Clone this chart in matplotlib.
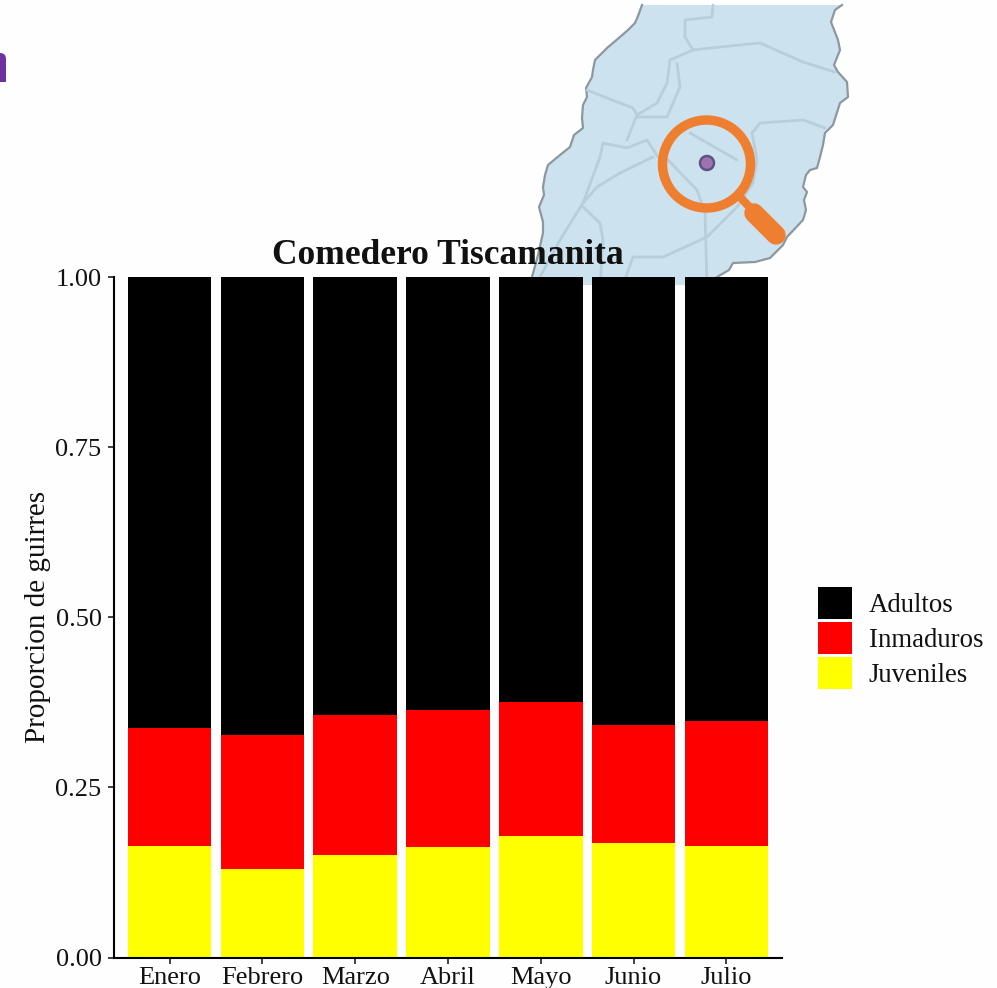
import numpy as np
import matplotlib
matplotlib.use("Agg")
import matplotlib.pyplot as plt
from matplotlib.patches import Polygon, Circle, FancyBboxPatch, Rectangle

plt.rcParams["font.family"] = ["Liberation Serif", "DejaVu Serif"]

# Datos
meses = ["Enero", "Febrero", "Marzo", "Abril", "Mayo", "Junio", "Julio"]
juveniles = [0.164, 0.130, 0.151, 0.162, 0.179, 0.168, 0.164]
inmaduros = [0.173, 0.197, 0.206, 0.202, 0.196, 0.174, 0.183]
adultos = [0.663, 0.673, 0.643, 0.636, 0.625, 0.658, 0.653]
yticks = [0.00, 0.25, 0.50, 0.75, 1.00]

W, H = 997, 988
fig = plt.figure(figsize=(W / 100, H / 100), dpi=100, facecolor="#fefefe")

# Fondo: mapa y lupa, en pixeles de la imagen
bg = fig.add_axes([0, 0, 1, 1], zorder=0)
bg.set_xlim(0, W)
bg.set_ylim(H, 0)
bg.axis("off")

contorno = [(642, 5), (638, 16), (635, 23), (628, 30), (620, 37), (607, 48), (595, 60), (593, 70), (592, 77),
            (586, 88), (587, 97), (583, 105), (582, 118), (583, 128), (574, 135), (570, 147), (560, 155),
            (548, 165), (545, 175), (543, 187), (544, 195), (539, 207), (543, 222), (543, 233), (538, 255),
            (532, 277), (532, 285), (717, 285), (717, 277), (729, 270), (733, 263), (755, 262), (770, 258),
            (783, 245), (787, 237), (803, 220), (806, 210), (804, 200), (807, 192), (803, 187), (806, 175),
            (810, 170), (817, 168), (820, 157), (823, 145), (825, 133), (833, 125), (840, 103), (848, 97),
            (847, 82), (838, 72), (834, 65), (840, 50), (838, 40), (831, 22), (835, 10), (842, 5)]
bg.add_patch(Polygon(contorno, closed=True, facecolor="#cde2ef", edgecolor="none"))
# sin borde arriba ni abajo
izq = contorno[:26]
der = contorno[28:]
for tramo in [izq, der]:
    xs, ys = zip(*tramo)
    bg.plot(xs, ys, color="#8d989e", lw=1.6)

color_linea = "#b9cedd"
lineas = [
    [(713, 5), (712, 17), (685, 20), (685, 37), (693, 50), (670, 60), (667, 83), (657, 103), (637, 115), (627, 140)],
    [(693, 50), (720, 47), (760, 43), (803, 62), (835, 72)],
    [(677, 63), (680, 87), (667, 117), (637, 117)],
    [(587, 90), (607, 98), (633, 108), (637, 115)],
    [(600, 157), (603, 143), (627, 148), (647, 140), (658, 157)],
    [(583, 203), (597, 187), (620, 173), (653, 157)],
    [(600, 157), (583, 203), (560, 240), (540, 277)],
    [(583, 207), (600, 223), (603, 240), (600, 285)],
    [(690, 133), (737, 160)],
    [(668, 160), (697, 190), (705, 213), (707, 285)],
    [(752, 133), (760, 123), (803, 120), (825, 128)],
    [(752, 133), (757, 160), (753, 183), (737, 207), (707, 237), (663, 257), (633, 257), (623, 285)],
]
for linea in lineas:
    xs, ys = zip(*linea)
    bg.plot(xs, ys, color=color_linea, lw=2, solid_capstyle="round", solid_joinstyle="round")

# Lupa
bg.plot([740, 756], [197, 214], color="#ef7f30", lw=6, zorder=3)
bg.plot([754, 776], [213, 235], color="#ef7f30", lw=14, solid_capstyle="round", zorder=3)
bg.add_patch(Circle((706.5, 164), 44, facecolor="none", edgecolor="#ef7f30", lw=6.8, zorder=4))
bg.add_patch(Circle((707, 163), 7, facecolor="#9d72b2", edgecolor="#5d5580", lw=1.8, zorder=4))

# Pestana morada, cortada por el borde izquierdo
bg.add_patch(FancyBboxPatch((-20, 53), 26, 29, boxstyle="round,pad=0,rounding_size=6",
                            facecolor="#7030a0", edgecolor="none"))
bg.add_patch(Rectangle((0, 70), 6, 12, facecolor="#7030a0", edgecolor="none"))

# Grafico de barras
x0, x1, y0, y1 = 114, 782, 957.5, 277
ax = fig.add_axes([x0 / W, 1 - y0 / H, (x1 - x0) / W, (y0 - y1) / H], zorder=1)
ax.patch.set_alpha(0)
pos = np.arange(1, len(meses) + 1)
juv = np.array(juveniles)
inm = np.array(inmaduros)
adu = np.array(adultos)
b1 = ax.bar(pos, adu, 0.9, bottom=juv + inm, color="black", label="Adultos")
b2 = ax.bar(pos, inm, 0.9, bottom=juv, color="#ff0000", label="Inmaduros")
b3 = ax.bar(pos, juv, 0.9, color="#ffff00", label="Juveniles")
ax.set_xlim(0.4, 7.6)
ax.set_ylim(0, 1)
ax.set_xticks(pos, meses)
ax.set_yticks(yticks, [f"{v:.2f}" for v in yticks])
ax.spines[["top", "right"]].set_visible(False)
ax.spines[["left", "bottom"]].set_linewidth(1.5)
ax.tick_params(axis="both", labelsize=19, width=1.2, length=4, color="#222222", labelcolor="#111111")
ax.tick_params(axis="x", pad=3)
ax.tick_params(axis="y", pad=5)
ax.set_ylabel("Proporcion de guirres", fontsize=21, color="#111111", labelpad=3)
ax.set_title("Comedero Tiscamanita", fontsize=25.5, fontweight="bold", pad=9, color="#111111")

fig.legend(handles=[b1, b2, b3], loc="center left", bbox_to_anchor=(818 / W, 1 - 638 / H), frameon=False,
           fontsize=19.3, handlelength=1.26, handleheight=1.5, labelspacing=0.09, handletextpad=0.63,
           borderpad=0, borderaxespad=0, labelcolor="#111111")

fig.savefig("out.png", dpi=100, facecolor=fig.get_facecolor())
